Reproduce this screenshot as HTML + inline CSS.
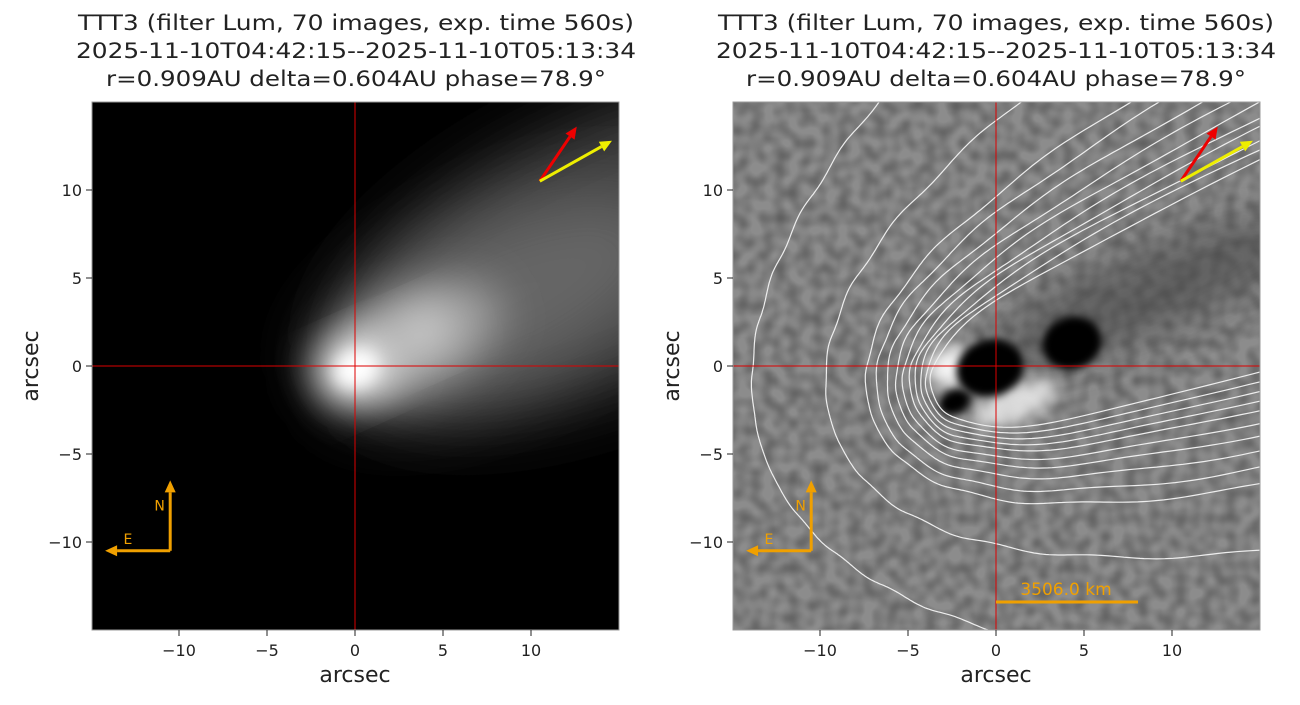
<!DOCTYPE html>
<html><head><meta charset="utf-8"><style>
html,body{margin:0;padding:0;background:#fff;width:1300px;height:705px;overflow:hidden;}
svg{display:block;font-family:"DejaVu Sans","Liberation Sans",sans-serif;}
</style></head><body>
<svg id="s" width="1300" height="705" viewBox="0 0 1300 705" xmlns="http://www.w3.org/2000/svg">
<defs>
<filter id="b8" x="-50%" y="-50%" width="200%" height="200%"><feGaussianBlur stdDeviation="8"/></filter>
<filter id="b20" x="-50%" y="-50%" width="200%" height="200%"><feGaussianBlur stdDeviation="20"/></filter>
<filter id="b40" x="-50%" y="-50%" width="200%" height="200%"><feGaussianBlur stdDeviation="35"/></filter>
<filter id="b5" x="-50%" y="-50%" width="200%" height="200%"><feGaussianBlur stdDeviation="4"/></filter>
<filter id="noise" x="0" y="0" width="100%" height="100%">
<feTurbulence type="fractalNoise" baseFrequency="0.08" numOctaves="1" seed="3"/>
<feColorMatrix type="matrix" values="0 0 0 0 0  0 0 0 0 0  0 0 0 0 0  1.5 0 0 0 -0.5"/>
</filter>
<clipPath id="cl"><rect x="92" y="102" width="527" height="528"/></clipPath>
<clipPath id="cr"><rect x="733" y="102" width="527" height="528"/></clipPath>
</defs>

<g font-size="21" fill="#222" text-anchor="middle">
<text x="356" y="30" textLength="556" lengthAdjust="spacingAndGlyphs">TTT3 (filter Lum, 70 images, exp. time 560s)</text>
<text x="356" y="58" textLength="560" lengthAdjust="spacingAndGlyphs">2025-11-10T04:42:15--2025-11-10T05:13:34</text>
<text x="356" y="86" textLength="500" lengthAdjust="spacingAndGlyphs">r=0.909AU delta=0.604AU phase=78.9°</text>
<text x="996" y="30" textLength="556" lengthAdjust="spacingAndGlyphs">TTT3 (filter Lum, 70 images, exp. time 560s)</text>
<text x="996" y="58" textLength="560" lengthAdjust="spacingAndGlyphs">2025-11-10T04:42:15--2025-11-10T05:13:34</text>
<text x="996" y="86" textLength="500" lengthAdjust="spacingAndGlyphs">r=0.909AU delta=0.604AU phase=78.9°</text>
</g>

<!-- LEFT -->
<g clip-path="url(#cl)">
<rect x="92" y="102" width="527" height="528" fill="#000"/>
<g transform="translate(355,366) rotate(-24)">
<ellipse cx="290" cy="0" rx="300" ry="130" fill="#404040" filter="url(#b40)"/>
<ellipse cx="160" cy="0" rx="190" ry="80" fill="#666" filter="url(#b40)"/>
<ellipse cx="60" cy="0" rx="100" ry="50" fill="#999" filter="url(#b20)"/>
<ellipse cx="5" cy="3" rx="40" ry="30" fill="#eee" filter="url(#b20)"/>
<ellipse cx="75" cy="-3" rx="38" ry="26" fill="#c8c8c8" filter="url(#b20)"/>
<ellipse cx="0" cy="3" rx="22" ry="18" fill="#fff" filter="url(#b8)"/>
</g>
<line x1="355" y1="102" x2="355" y2="630" stroke="#d00" stroke-width="1"/>
<line x1="92" y1="366" x2="619" y2="366" stroke="#d00" stroke-width="1"/>
</g>
<rect x="92" y="102" width="527" height="528" fill="none" stroke="#999" stroke-width="1"/>

<!-- RIGHT -->
<g clip-path="url(#cr)">
<rect x="733" y="102" width="527" height="528" fill="#8c8c8c"/>
<rect x="733" y="102" width="527" height="528" fill="#000" filter="url(#noise)" opacity="0.4"/>
<g transform="translate(996,366) rotate(-22)">
<ellipse cx="170" cy="-10" rx="170" ry="40" fill="#444" filter="url(#b20)" opacity="0.6"/>
<ellipse cx="-42" cy="-16" rx="24" ry="20" fill="#f4f4f4" filter="url(#b8)"/>
<ellipse cx="5" cy="42" rx="45" ry="18" fill="#eee" filter="url(#b8)" opacity="0.85"/>
<ellipse cx="-52" cy="18" rx="16" ry="12" fill="#000" filter="url(#b5)"/>
</g>
<ellipse cx="990" cy="368" rx="34" ry="28" transform="rotate(-17 990 368)" fill="#000" filter="url(#b5)"/>
<ellipse cx="1072" cy="343" rx="30" ry="26" transform="rotate(-20 1072 343)" fill="#000" filter="url(#b5)"/>
<g id="cont" fill="none" stroke="#eee" stroke-width="1.2"></g>
<line x1="996" y1="102" x2="996" y2="630" stroke="#d00" stroke-width="1"/>
<line x1="733" y1="366" x2="1260" y2="366" stroke="#d00" stroke-width="1"/>
<line x1="996" y1="602" x2="1138" y2="602" stroke="#f0a000" stroke-width="3"/>
<text x="1066" y="595" font-size="17" fill="#f0a000" text-anchor="middle">3506.0 km</text>
</g>
<rect x="733" y="102" width="527" height="528" fill="none" stroke="#999" stroke-width="1"/>

<g id="arrows"></g>
<g id="ticks" font-size="16" fill="#222"></g>

<g font-size="22" fill="#222" text-anchor="middle">
<text x="355" y="682">arcsec</text>
<text x="996" y="682">arcsec</text>
<text transform="translate(38,366) rotate(-90)">arcsec</text>
<text transform="translate(679,366) rotate(-90)">arcsec</text>
</g>
</svg>
<script>
var NS="http://www.w3.org/2000/svg";
function el(p,t,a,txt){var e=document.createElementNS(NS,t);for(var k in a)e.setAttribute(k,a[k]);if(txt!=null)e.textContent=txt;p.appendChild(e);return e;}
var S=17.6;
var tk=document.getElementById('ticks');
[0,641].forEach(function(off){
 [-10,-5,0,5,10].forEach(function(v){
  var x=355+off+S*v, y=366-S*v;
  var lbl=(v<0?'\u2212'+(-v):''+v);
  el(tk,'line',{x1:x,y1:630,x2:x,y2:636,stroke:'#222'});
  el(tk,'text',{x:x,y:656,'text-anchor':'middle'},lbl);
  el(tk,'line',{x1:92+off-6,y1:y,x2:92+off,y2:y,stroke:'#222'});
  el(tk,'text',{x:92+off-10,y:y+6,'text-anchor':'end'},lbl);
 });
});
var ar=document.getElementById('arrows');
[0,641].forEach(function(off){
 function P(a,b){return [355+off+S*a,366-S*b];}
 function arrow(a,b,col,w){
  var p=P(a[0],a[1]),q=P(b[0],b[1]);
  var dx=q[0]-p[0],dy=q[1]-p[1],L=Math.hypot(dx,dy),ux=dx/L,uy=dy/L;
  var hl=12,hw=5.5;var bx=q[0]-ux*hl,by=q[1]-uy*hl;
  el(ar,'line',{x1:p[0],y1:p[1],x2:bx,y2:by,stroke:col,'stroke-width':w});
  el(ar,'path',{d:'M'+q[0]+','+q[1]+'L'+(bx-uy*hw)+','+(by+ux*hw)+'L'+(bx+uy*hw)+','+(by-ux*hw)+'Z',fill:col});
 }
 arrow([10.5,10.5],[12.6,13.6],'#e00',3);
 arrow([10.5,10.5],[14.6,12.8],'#ee0',3);
 arrow([-10.5,-10.5],[-10.5,-6.5],'#f0a000',3);
 arrow([-10.5,-10.5],[-14.2,-10.5],'#f0a000',3);
 var n=P(-11.1,-8.2),e=P(-12.9,-10.1);
 el(ar,'text',{x:n[0],y:n[1],'font-size':14,fill:'#f0a000','text-anchor':'middle'},'N');
 el(ar,'text',{x:e[0],y:e[1],'font-size':14,fill:'#f0a000','text-anchor':'middle'},'E');
});
var cg=document.getElementById('cont');
var th=21*Math.PI/180, c=Math.cos(th), s=Math.sin(th);
var O=[0,-0.3];
[3.8,4.1,4.4,4.7,5.0,5.4,5.8,6.3,6.9,7.5,9.8,14.0].forEach(function(d,i){
 var R=2.5+(d-3.8)*0.9, W=5.6+(d-3.8)*1.8;
 var cc=Math.max(0,(d+16-W*W/(2*R))/Math.pow(W,4));
 var pts=[];
 for(var v=-W*3;v<=W*3;v+=0.08){
  var t=v*v/(2*R)+cc*Math.pow(v,4);
  var u=-d+t;
  if(u>40)continue;
  var vv=v+0.1*Math.sin(v*2.3+i);
  var x=O[0]+u*c - vv*s, y=O[1]+u*s + vv*c;
  pts.push((996+S*x).toFixed(1)+','+(366-S*y).toFixed(1));
 }
 el(cg,'polyline',{points:pts.join(' ')});
});
</script>
</body></html>
